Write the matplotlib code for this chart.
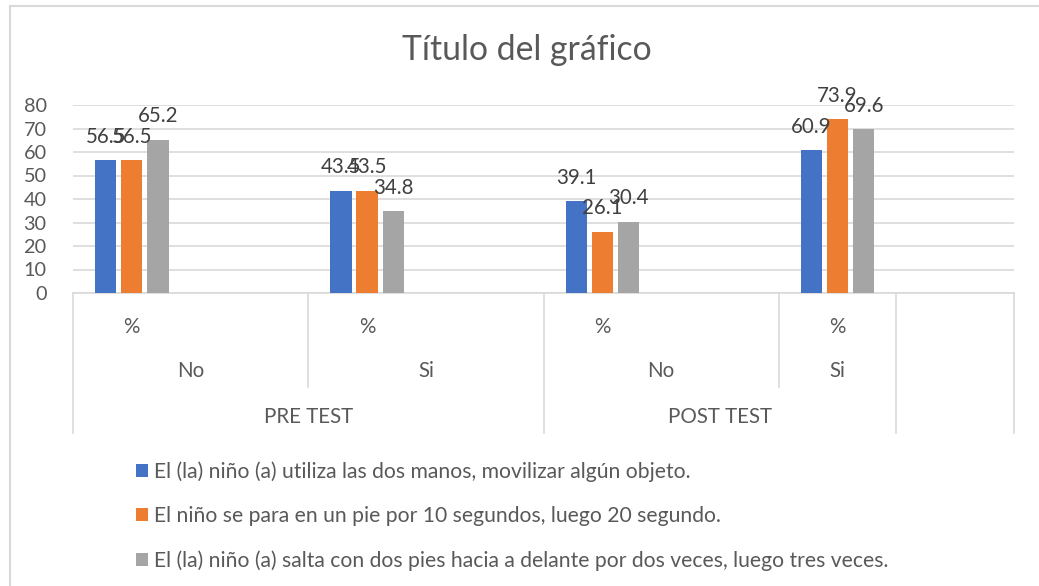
import matplotlib
matplotlib.use("Agg")
import matplotlib.pyplot as plt
from matplotlib.transforms import blended_transform_factory
from matplotlib.lines import Line2D

plt.rcParams['font.family'] = ['Lato', 'DejaVu Sans']

# ---- data ----
title = "Título del gráfico"
series_names = [
    "El (la) niño (a) utiliza las dos manos, movilizar algún objeto.",
    "El niño se para en un pie por 10 segundos, luego 20 segundo.",
    "El (la) niño (a) salta con dos pies hacia a delante por dos veces, luego tres veces.",
]
s1 = [56.5, 43.5, 39.1, 60.9]
s2 = [56.5, 43.5, 26.1, 73.9]
s3 = [65.2, 34.8, 30.4, 69.6]
cat_pos = [0, 2, 4, 6]          # category slots that hold data (8 slots in all)
n_slots = 8
level1 = ["%", "", "%", "", "%", "", "%", ""]
level2 = [("No", 0, 1), ("Si", 2, 3), ("No", 4, 5), ("Si", 6, 6)]
level3 = [("PRE TEST", 0, 3), ("POST TEST", 4, 6)]
yticks = [0, 10, 20, 30, 40, 50, 60, 70, 80]

colors = ["#4472C4", "#ED7D31", "#A5A5A5"]
W, H = 1039, 586
fig = plt.figure(figsize=(W / 100, H / 100), dpi=100)

def fx(px):
    return px / W

def fy(py):
    return 1 - py / H

ax = fig.add_axes([fx(73), fy(293), fx(1014) - fx(73), fy(105) - fy(293)])
ax.set_xlim(-0.5, n_slots - 0.5)
ax.set_ylim(0, 80)

bw = 0.18
off = 0.222
for i, (vals, c, name) in enumerate(zip([s1, s2, s3], colors, series_names)):
    xs = [p + (i - 1) * off for p in cat_pos]
    ax.bar(xs, vals, width=bw, color=c, label=name, zorder=3)
    for x, v in zip(xs, vals):
        ax.annotate(f"{v:.1f}", (x, v), xytext=(0, 12.5), textcoords="offset points",
                    ha="center", va="baseline", fontsize=14.8, color="#404040", zorder=4)

ax.set_yticks(yticks)
ax.set_yticklabels([str(t) for t in yticks], fontsize=14.3, color="#595959")
ax.tick_params(axis='y', length=0, pad=19)
ax.set_xticks([])
ax.grid(axis='y', color="#D9D9D9", linewidth=1.2, zorder=0)
for sp in ["top", "right", "left"]:
    ax.spines[sp].set_visible(False)
ax.spines["bottom"].set_color("#D9D9D9")
ax.spines["bottom"].set_linewidth(1.2)

# ---- multi-level category axis ----
tr = blended_transform_factory(ax.transData, fig.transFigure)
lc = "#D9D9D9"
y_top = fy(293)
y_mid = fy(387)
y_bot = fy(433)
for i, lab in enumerate(level1):
    if lab:
        ax.text(i, fy(327), lab, transform=tr, ha="center", va="center",
                fontsize=14.8, color="#595959")
for lab, a, b in level2:
    ax.text((a + b) / 2, fy(371), lab, transform=tr, ha="center", va="center",
            fontsize=14.8, color="#595959")
for lab, a, b in level3:
    ax.text((a + b) / 2, fy(417), lab, transform=tr, ha="center", va="center",
            fontsize=14.8, color="#595959")
short_b = [b + 0.5 for lab, a, b in level2 if not any(b == bb for _, _, bb in level3)]
long_b = [-0.5] + [b + 0.5 for _, a, b in level3] + [n_slots - 0.5]
for xb in short_b:
    fig.add_artist(Line2D([xb, xb], [y_top, y_mid], transform=tr, color=lc, lw=1.2))
for xb in long_b:
    fig.add_artist(Line2D([xb, xb], [y_top, y_bot], transform=tr, color=lc, lw=1.2))

# ---- title ----
fig.text(fx(527), fy(50), title, ha="center", va="center", fontsize=24.3, color="#595959")

# ---- legend ----
handles, labels = ax.get_legend_handles_labels()
leg = fig.legend(handles, labels, loc="upper left", bbox_to_anchor=(fx(128), fy(453)),
                 frameon=False, fontsize=15.2, handlelength=0.55, handleheight=0.55,
                 handletextpad=0.3, labelspacing=1.15, borderaxespad=0)
for t in leg.get_texts():
    t.set_color("#595959")

# ---- chart border (left and top visible) ----
fig.add_artist(Line2D([fx(10), fx(10)], [0, fy(6)], color="#D9D9D9", lw=1.5))
fig.add_artist(Line2D([fx(10), 1.0], [fy(6), fy(6)], color="#D9D9D9", lw=1.5))

fig.savefig("out.png", dpi=100)
